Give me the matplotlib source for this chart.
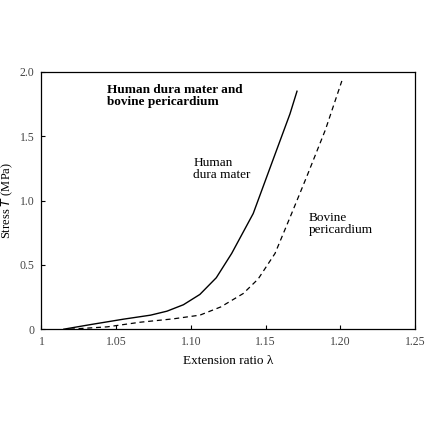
import numpy as np
import matplotlib.pyplot as plt

dura_x = [1.015, 1.033, 1.055, 1.073, 1.084, 1.095, 1.106, 1.117, 1.1273, 1.1417, 1.154, 1.1663, 1.171]
dura_y = [0.0, 0.036, 0.078, 0.109, 0.14, 0.19, 0.27, 0.40, 0.589, 0.899, 1.287, 1.674, 1.85]
bov_x = [1.019, 1.044, 1.066, 1.088, 1.106, 1.12, 1.135, 1.145, 1.1563, 1.1674, 1.178, 1.19, 1.201]
bov_y = [0.0, 0.018, 0.054, 0.08, 0.109, 0.173, 0.277, 0.39, 0.589, 0.899, 1.2, 1.55, 1.93]

xticks = [1.0, 1.05, 1.10, 1.15, 1.20, 1.25]
xlabels = ['1', '1.05', '1.10', '1.15', '1.20', '1.25']
yticks = [0, 0.5, 1.0, 1.5, 2.0]
ylabels = ['0', '0.5', '1.0', '1.5', '2.0']

plt.rcParams['font.family'] = ['Liberation Serif', 'DejaVu Serif']

fig = plt.figure(figsize=(4.36, 4.36), dpi=100)
ax = fig.add_axes([0.095, 0.245, 0.857, 0.59])
ax.plot(dura_x, dura_y, color='black', lw=1.0)
ax.plot(bov_x, bov_y, color='black', lw=0.9, ls=(0, (4, 3)))
ax.set_xlim(1.0, 1.25)
ax.set_ylim(0, 2.0)
ax.set_xticks(xticks, xlabels)
ax.set_yticks(yticks, ylabels)
ax.tick_params(direction='in', length=3, width=0.8, labelsize=8.5, colors='black',
               labelcolor='#444444', pad=5)
for s in ax.spines.values():
    s.set_linewidth(0.9)
ax.set_xlabel('Extension ratio λ', fontsize=9.5, labelpad=5)
ax.set_ylabel('Stress $T$ (MPa)', fontsize=9, labelpad=3)

ax.text(1.044, 1.91, 'Human dura mater and\nbovine pericardium', fontsize=9.5, fontweight='bold',
        va='top', ha='left', linespacing=1.0)
ax.text(1.1016, 1.34, 'Human\ndura mater', fontsize=9.5, va='top', ha='left', linespacing=1.0)
ax.text(1.1786, 0.91, 'Bovine\npericardium', fontsize=9.5, va='top', ha='left', linespacing=1.0)

fig.savefig('out.png', dpi=100)
